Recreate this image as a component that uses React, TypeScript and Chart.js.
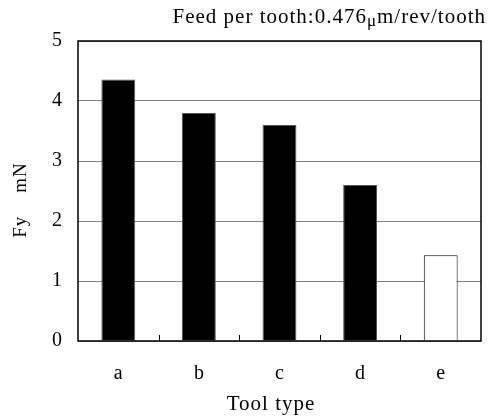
import React, { useEffect, useRef } from "react";
import { Chart, registerables } from "chart.js";

Chart.register(...registerables);

const categories = ["a", "b", "c", "d", "e"];
const fyValues = [4.36, 3.8, 3.6, 2.6, 1.43];
const barFill = ["#000000", "#000000", "#000000", "#000000", "#ffffff"];
const barEdge = ["#555555", "#555555", "#555555", "#555555", "#000000"];
const yTicks = [0, 1, 2, 3, 4, 5];
const titlePre = "Feed per tooth:0.476";
const titleMu = "μ";
const titlePost = "m/rev/tooth";
const xTitle = "Tool type";
const yTitle = "Fy    mN";

const FONT = "'Liberation Serif', 'Times New Roman', serif";

const framePlugin = {
  id: "frame",
  afterDraw(chart: any) {
    const { ctx, chartArea, scales } = chart;
    const x = scales.x;
    ctx.save();
    // inward ticks at category boundaries
    ctx.strokeStyle = "#000";
    ctx.lineWidth = 1;
    for (let i = 1; i < categories.length; i++) {
      const px = Math.round((x.getPixelForValue(i - 1) + x.getPixelForValue(i)) / 2) + 0.5;
      ctx.beginPath();
      ctx.moveTo(px, chartArea.bottom);
      ctx.lineTo(px, chartArea.bottom - 6);
      ctx.stroke();
    }
    // frame
    ctx.lineWidth = 1.5;
    ctx.strokeRect(chartArea.left, chartArea.top, chartArea.right - chartArea.left, chartArea.bottom - chartArea.top);

    ctx.fillStyle = "#000";
    ctx.textBaseline = "alphabetic";
    // title
    (ctx as any).letterSpacing = "1px";
    const big = `21px ${FONT}`;
    const small = `17px ${FONT}`;
    ctx.font = big;
    const wPost = ctx.measureText(titlePost).width;
    const wPre = ctx.measureText(titlePre).width;
    ctx.font = small;
    const wMu = ctx.measureText(titleMu).width;
    const right = 486;
    const base = 23;
    let cx = right - wPost - wMu - wPre;
    ctx.font = big;
    ctx.textAlign = "left";
    ctx.fillText(titlePre, cx, base);
    cx += wPre;
    ctx.font = small;
    ctx.fillText(titleMu, cx, base + 3);
    cx += wMu;
    ctx.font = big;
    ctx.fillText(titlePost, cx, base);

    // x title
    (ctx as any).letterSpacing = "1px";
    ctx.font = `21px ${FONT}`;
    ctx.textAlign = "center";
    ctx.fillText(xTitle, 271, 410);

    // y title
    ctx.font = `19px ${FONT}`;
    ctx.translate(26, 200);
    ctx.rotate(-Math.PI / 2);
    ctx.textAlign = "center";
    ctx.fillText(yTitle, 0, 0);
    (ctx as any).letterSpacing = "0px";
    ctx.restore();
  },
};

export default function App() {
  const ref = useRef<HTMLCanvasElement>(null);
  useEffect(() => {
    if (!ref.current) return;
    const chart = new Chart(ref.current, {
      type: "bar",
      data: {
        labels: categories,
        datasets: [
          {
            data: fyValues,
            backgroundColor: barFill,
            borderColor: barEdge,
            borderWidth: 1,
            categoryPercentage: 1,
            barPercentage: 0.42,
          },
        ],
      },
      options: {
        animation: false,
        responsive: false,
        maintainAspectRatio: false,
        layout: { padding: { left: 0, right: 7, top: 41, bottom: 0 } },
        plugins: { legend: { display: false }, tooltip: { enabled: false } },
        scales: {
          x: {
            grid: { display: false, drawTicks: false },
            border: { display: false },
            ticks: { color: "#000", font: { family: FONT, size: 20 }, padding: 21 },
            afterFit(scale: any) {
              scale.height = 77;
            },
          },
          y: {
            min: 0,
            max: 5,
            afterBuildTicks(scale: any) {
              scale.ticks = yTicks.map((v) => ({ value: v }));
            },
            grid: { color: "#808080", lineWidth: 1, drawTicks: false },
            border: { display: false },
            ticks: { color: "#000", font: { family: FONT, size: 20 }, padding: 16 },
            afterFit(scale: any) {
              scale.width = 78;
            },
          },
        },
      },
      plugins: [framePlugin],
    });
    return () => chart.destroy();
  }, []);
  return (
    <div style={{ position: "fixed", left: 0, top: 0, width: 488, height: 418, background: "#fff" }}>
      <canvas ref={ref} width={488} height={418} style={{ width: 488, height: 418 }} />
    </div>
  );
}
